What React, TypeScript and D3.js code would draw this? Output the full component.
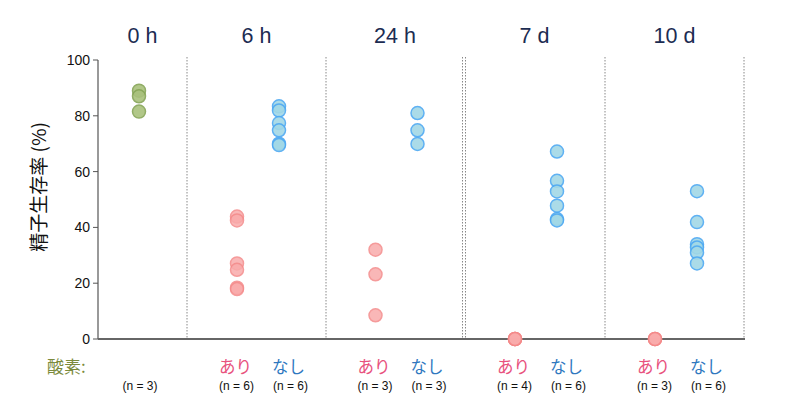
import React from "react";
import * as d3 from "d3";

const timepoints = ["0 h", "6 h", "24 h", "7 d", "10 d"];
const yTicks = [0, 20, 40, 60, 80, 100];

const control0h = [89, 87, 81.5];
const ariValues = [
  [],
  [43.9, 42.5, 27.1, 24.8, 18.4, 17.9],
  [32, 23.2, 8.5],
  [0, 0, 0, 0],
  [0, 0, 0],
];
const nashiValues = [
  [],
  [83.4, 81.9, 77.4, 74.8, 70.0, 69.5],
  [81.0, 74.8, 69.9],
  [67.2, 56.7, 52.9, 47.8, 43.0, 42.5],
  [53.0, 41.9, 34.0, 32.8, 31.0, 27.1],
];
const nLabelsAri = ["", "(n = 6)", "(n = 3)", "(n = 4)", "(n = 3)"];
const nLabelsNashi = ["", "(n = 6)", "(n = 3)", "(n = 6)", "(n = 6)"];
const controlN = "(n = 3)";

export default function App() {
  const W = 788, H = 410;
  const left = 98, right = 744, top = 60, bottom = 339;
  const y = d3.scaleLinear().domain([0, 100]).range([bottom, top]);
  const bounds = [left, 187, 326, 464, 605, right];
  const centers = timepoints.map((_, i) => (bounds[i] + bounds[i + 1]) / 2);
  const font = "Liberation Sans, Arial, sans-serif";
  const jp = "Noto Sans CJK JP, sans-serif";
  const r = 6.5;
  const green = { fill: "#a9c17c", stroke: "#86a556" };
  const pink = { fill: "#f9abab", stroke: "#f48a8a" };
  const blue = { fill: "#a2d8e6", stroke: "#4ea9f2" };

  return (
    <svg width={W} height={H} style={{ position: "absolute", left: 0, top: 0 }} fontFamily={font}>
      {timepoints.map((t, i) => (
        <text key={t} x={centers[i]} y={43} textAnchor="middle" fontSize={21.5} fill="#1c2c52">
          {t}
        </text>
      ))}
      {bounds.slice(1).map((b, i) => (
        <g key={i}>
          {i === 2 ? (
            <>
              <line x1={b - 1.5} x2={b - 1.5} y1={57} y2={bottom} stroke="#888" strokeDasharray="1.5,1.5" />
              <line x1={b + 1.5} x2={b + 1.5} y1={57} y2={bottom} stroke="#888" strokeDasharray="1.5,1.5" />
            </>
          ) : (
            <line x1={b} x2={b} y1={57} y2={bottom} stroke="#888" strokeDasharray="1.5,1.5" />
          )}
        </g>
      ))}
      <line x1={left} x2={left} y1={top} y2={bottom} stroke="#555" strokeWidth={1.2} />
      {yTicks.map((t) => (
        <g key={t}>
          <line x1={left - 5} x2={left} y1={y(t)} y2={y(t)} stroke="#555" />
          <text x={left - 8} y={y(t) + 5} textAnchor="end" fontSize={14} fill="#111">
            {t}
          </text>
        </g>
      ))}
      <text
        transform={`translate(46,187) rotate(-90)`}
        textAnchor="middle"
        fontSize={19}
        fill="#111"
        fontFamily={jp}
      >
        精子生存率 (%)
      </text>
      <line x1={left} x2={right + 1} y1={bottom} y2={bottom} stroke="#666" strokeWidth={2} />
      {control0h.map((v, j) => (
        <circle key={"c" + j} cx={139} cy={y(v)} r={r} fill={green.fill} stroke={green.stroke} strokeWidth={1.5} opacity={0.9} />
      ))}
      {ariValues.map((vals, i) =>
        vals.map((v, j) => (
          <circle key={"a" + i + j} cx={centers[i] - 19.5} cy={y(v)} r={r} fill={pink.fill} stroke={pink.stroke} strokeWidth={1.5} opacity={0.85} />
        ))
      )}
      {nashiValues.map((vals, i) =>
        vals.map((v, j) => (
          <circle key={"n" + i + j} cx={centers[i] + 22.5} cy={y(v)} r={r} fill={blue.fill} stroke={blue.stroke} strokeWidth={1.5} opacity={0.9} />
        ))
      )}
      <text x={47} y={373} fontSize={17} fill="#7b8a3c" fontFamily={jp}>
        酸素:
      </text>
      <text x={140} y={390} textAnchor="middle" fontSize={12} fill="#111">
        {controlN}
      </text>
      {timepoints.map((_, i) =>
        i === 0 ? null : (
          <g key={"lab" + i}>
            <text x={centers[i] - 21} y={373} textAnchor="middle" fontSize={16.5} fill="#e8527e" fontFamily={jp}>
              あり
            </text>
            <text x={centers[i] + 32} y={373} textAnchor="middle" fontSize={16.5} fill="#2f78bf" fontFamily={jp}>
              なし
            </text>
            <text x={centers[i] - 20} y={390} textAnchor="middle" fontSize={12} fill="#111">
              {nLabelsAri[i]}
            </text>
            <text x={centers[i] + 34} y={390} textAnchor="middle" fontSize={12} fill="#111">
              {nLabelsNashi[i]}
            </text>
          </g>
        )
      )}
    </svg>
  );
}
